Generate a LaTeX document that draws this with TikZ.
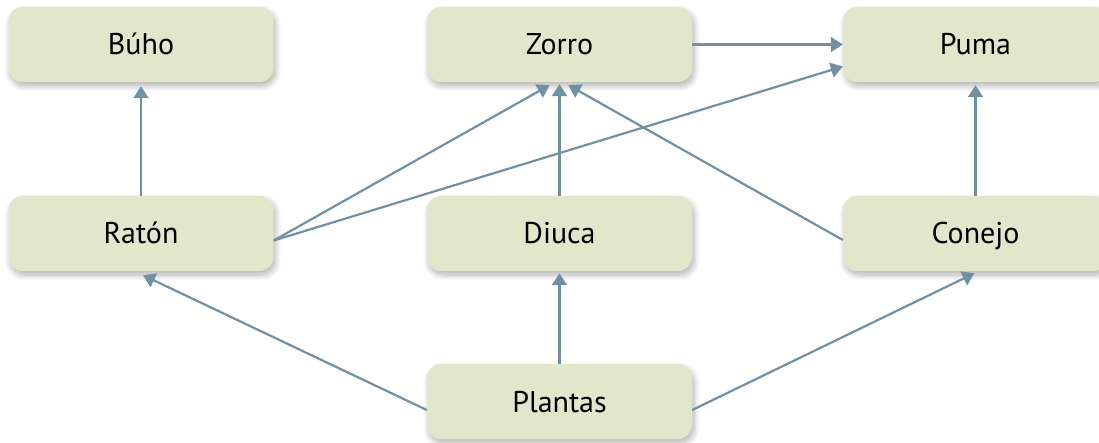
\documentclass[tikz,border=0pt]{standalone}
\usepackage{fontspec}
\setmainfont{PT Sans}
\usetikzlibrary{arrows.meta,calc,shadows.blur}
\definecolor{boxfill}{HTML}{E2E7CB}
\definecolor{arrowcol}{HTML}{7190A4}
\begin{document}
\begin{tikzpicture}[x=1pt,y=-1pt,
  animal/.style={draw=none, fill=boxfill, rounded corners=14pt, minimum width=265pt, minimum height=75pt, inner sep=0pt,
    font=\fontsize{30}{34}\selectfont, text height=21pt, text depth=0pt,
    blur shadow={shadow blur steps=10, shadow xshift=2pt, shadow yshift=-4pt, shadow opacity=30, shadow blur radius=6pt}},
  link/.style={draw=arrowcol, line width=2.2pt, -{Triangle[length=12pt,width=15pt]}}]
\useasboundingbox (0,0) rectangle (1099,443);
\node[animal] (buho) at (141,44.5) {Búho};
\node[animal] (zorro) at (559.5,44.5) {Zorro};
\node[animal] (puma) at (975.5,44.5) {Puma};
\node[animal] (raton) at (141,233.5) {Ratón};
\node[animal] (diuca) at (559.5,233.5) {Diuca};
\node[animal] (conejo) at (975.5,233.5) {Conejo};
\node[animal] (plantas) at (559.5,401.5) {Plantas};

\draw[link] (raton.north) -- ($(buho.south)+(0,4)$);
\draw[link] (zorro.east) -- (puma.west);
\draw[link] ($(raton.east)+(0,7)$) -- ($(puma.west)+(0,22)$);
\draw[link] ($(raton.east)+(0,7)$) -- ($(zorro.south)+(-10,3)$);
\draw[link] (diuca.north) -- ($(zorro.south)+(0,2)$);
\draw[link] ($(conejo.west)+(0,6.5)$) -- ($(zorro.south)+(9,3)$);
\draw[link] (conejo.north) -- ($(puma.south)+(0,3)$);
\draw[link] ($(plantas.west)+(0,8.5)$) -- ($(raton.south)+(2,4)$);
\draw[link] (plantas.north) -- ($(diuca.south)+(0,2)$);
\draw[link] ($(plantas.east)+(0,8.5)$) -- ($(conejo.south)+(-1,2)$);
\end{tikzpicture}
\end{document}
